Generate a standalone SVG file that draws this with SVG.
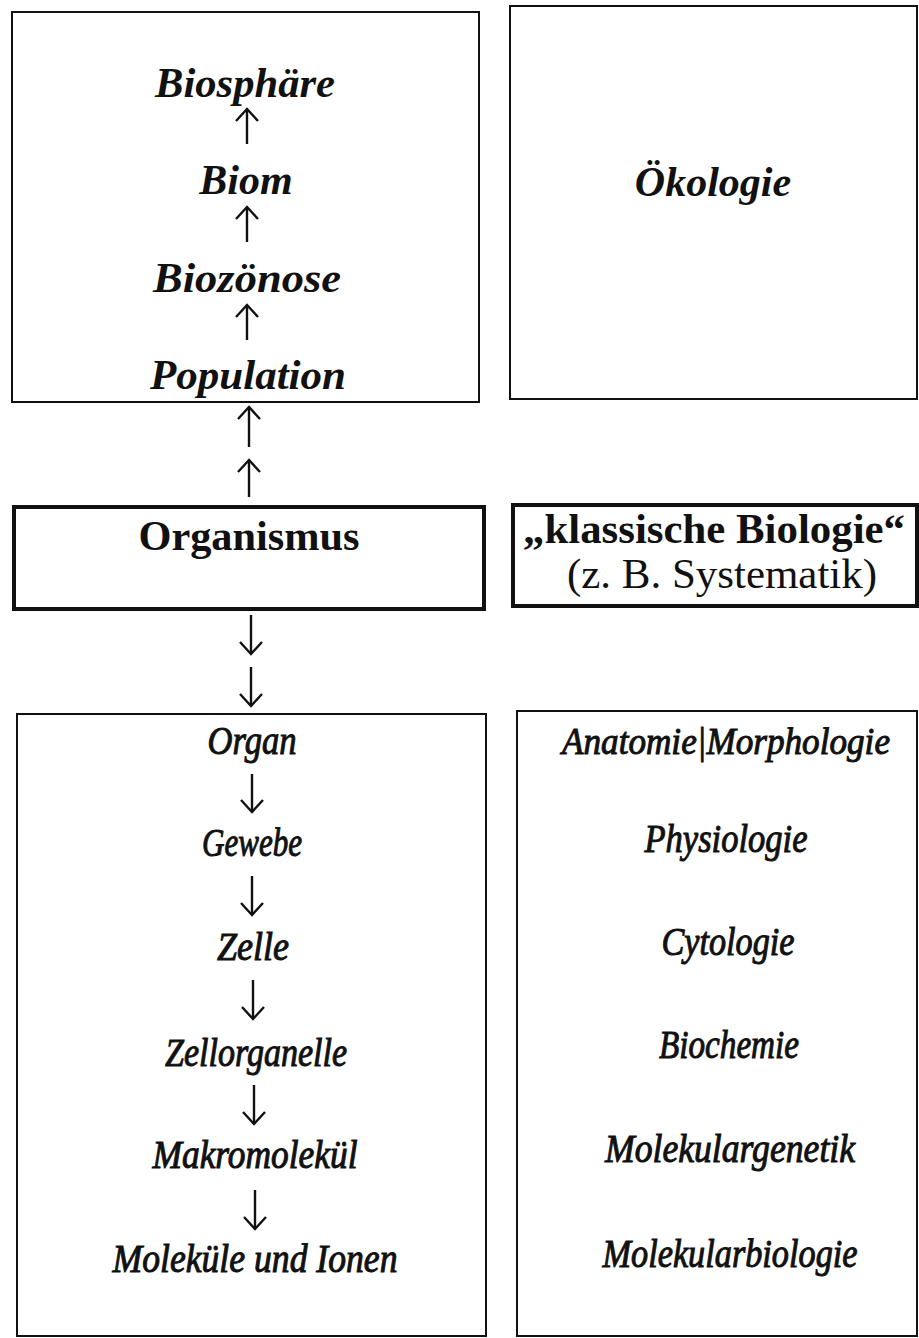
<svg xmlns="http://www.w3.org/2000/svg" width="919" height="1338" viewBox="0 0 919 1338">
<style>
.box{fill:none;stroke:#111;stroke-width:2}
.thick{fill:none;stroke:#111;stroke-width:4}
.bi{font-family:"Liberation Serif","Times New Roman",serif;font-style:italic;font-weight:bold;font-size:42px;fill:#111;text-anchor:middle}
.b{font-family:"Liberation Serif","Times New Roman",serif;font-weight:bold;font-size:42px;fill:#111;text-anchor:middle}
.r{font-family:"Liberation Serif","Times New Roman",serif;font-size:42px;fill:#111;text-anchor:middle}
.sc{font-family:"Liberation Serif","Times New Roman",serif;font-style:italic;font-size:39px;fill:#111;stroke:#111;stroke-width:1;text-anchor:middle}
.arr{fill:none;stroke:#111;stroke-width:2.4;marker-end:url(#head)}
</style>
<defs>
<marker id="head" markerUnits="userSpaceOnUse" viewBox="-14 -13 16 26" refX="0" refY="0" markerWidth="16" markerHeight="26" orient="auto">
<path d="M-12,-11 L0,0 L-12,11" fill="none" stroke="#111" stroke-width="2.4"/>
</marker>
</defs>
<rect width="919" height="1338" fill="#fff"/>
<g id="oekologie-ebenen">
<rect class="box" x="12" y="12" width="467" height="390"/>
<text class="bi" x="245" y="97" textLength="180" lengthAdjust="spacingAndGlyphs">Biosphäre</text>
<text class="bi" x="246" y="194">Biom</text>
<text class="bi" x="247" y="292" textLength="188" lengthAdjust="spacingAndGlyphs">Biozönose</text>
<text class="bi" x="248" y="389" textLength="196" lengthAdjust="spacingAndGlyphs">Population</text>
</g>
<g id="oekologie">
<rect class="box" x="510" y="6" width="407" height="393"/>
<text class="bi" x="713" y="196">Ökologie</text>
</g>
<g id="organismus">
<rect class="thick" x="14" y="507" width="470" height="102"/>
<text class="b" x="249" y="550" textLength="221" lengthAdjust="spacingAndGlyphs">Organismus</text>
</g>
<g id="klassische-biologie">
<rect class="thick" x="513" y="505" width="404" height="101"/>
<text class="b" x="714" y="543" textLength="382" lengthAdjust="spacingAndGlyphs">„klassische Biologie“</text>
<text class="r" x="722" y="588" textLength="310" lengthAdjust="spacingAndGlyphs">(z. B. Systematik)</text>
</g>
<g id="organisationsebenen">
<rect class="box" x="17" y="714" width="469" height="622"/>
<text class="sc" x="252" y="754" textLength="89" lengthAdjust="spacingAndGlyphs">Organ</text>
<text class="sc" x="252" y="856" textLength="100" lengthAdjust="spacingAndGlyphs">Gewebe</text>
<text class="sc" x="253" y="960" textLength="72" lengthAdjust="spacingAndGlyphs">Zelle</text>
<text class="sc" x="256" y="1066" textLength="182" lengthAdjust="spacingAndGlyphs">Zellorganelle</text>
<text class="sc" x="255" y="1168" textLength="205" lengthAdjust="spacingAndGlyphs">Makromolekül</text>
<text class="sc" x="255" y="1272" textLength="285" lengthAdjust="spacingAndGlyphs">Moleküle und Ionen</text>
</g>
<g id="disziplinen">
<rect class="box" x="517" y="711" width="400" height="625"/>
<text class="sc" x="726" y="754" style="font-size:37px" textLength="328" lengthAdjust="spacingAndGlyphs">Anatomie|Morphologie</text>
<text class="sc" x="726" y="852" textLength="163" lengthAdjust="spacingAndGlyphs">Physiologie</text>
<text class="sc" x="728" y="955" textLength="133" lengthAdjust="spacingAndGlyphs">Cytologie</text>
<text class="sc" x="729" y="1058" textLength="140" lengthAdjust="spacingAndGlyphs">Biochemie</text>
<text class="sc" x="730" y="1162" textLength="250" lengthAdjust="spacingAndGlyphs">Molekulargenetik</text>
<text class="sc" x="730" y="1267" textLength="255" lengthAdjust="spacingAndGlyphs">Molekularbiologie</text>
</g>
<g id="connectors">
<path class="arr" d="M247,144 V109"/>
<path class="arr" d="M247,242 V207"/>
<path class="arr" d="M247,340 V305"/>
<path class="arr" d="M249,447 V407"/>
<path class="arr" d="M249,497 V460"/>
<path class="arr" d="M251,615 V654"/>
<path class="arr" d="M251,667 V706"/>
<path class="arr" d="M252,774 V812"/>
<path class="arr" d="M252,876 V915"/>
<path class="arr" d="M253,980 V1019"/>
<path class="arr" d="M254,1085 V1124"/>
<path class="arr" d="M255,1190 V1229"/>
</g>
</svg>
